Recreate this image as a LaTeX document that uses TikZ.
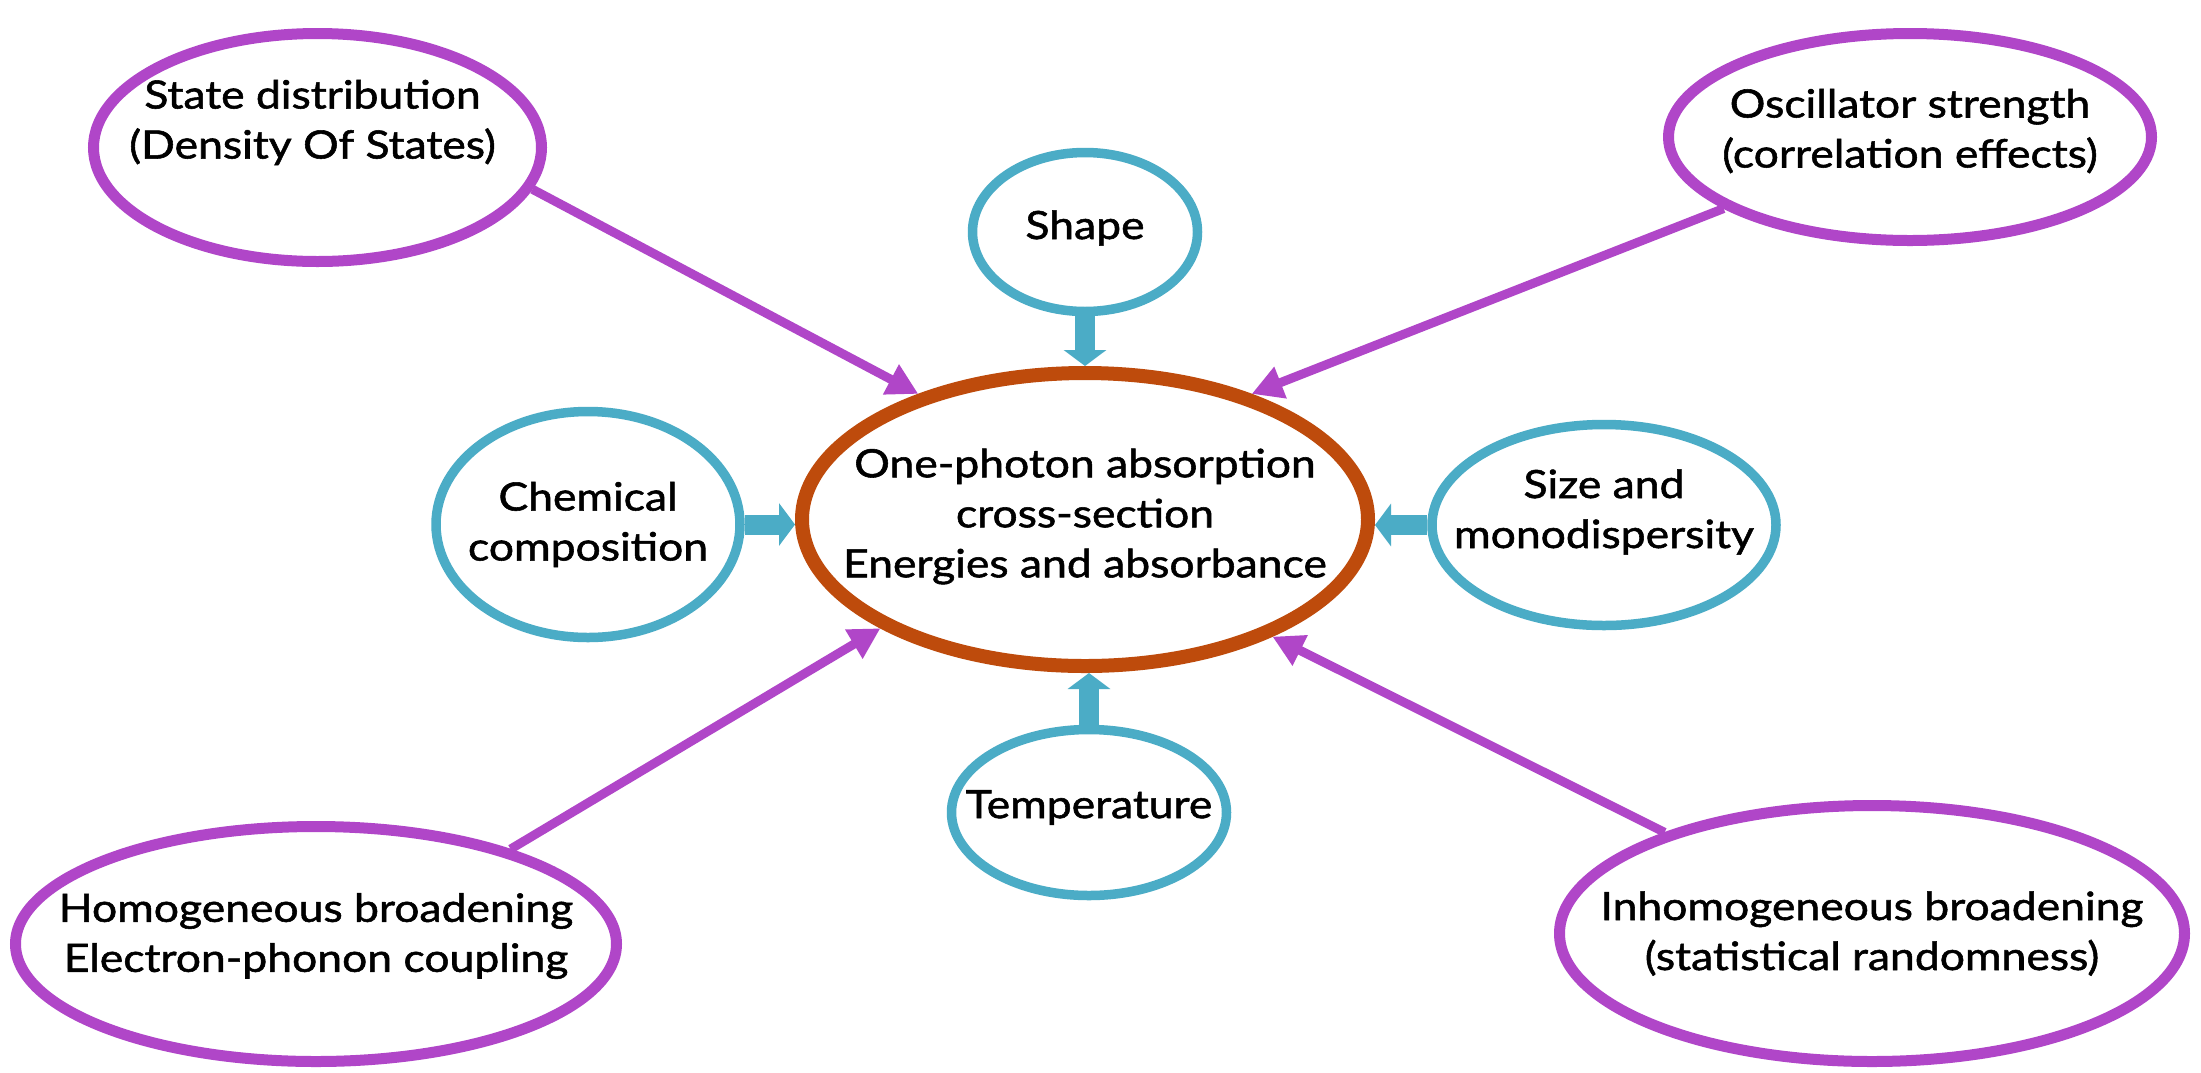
\documentclass[tikz,border=0pt]{standalone}
\usepackage{fontspec}
\setmainfont{Lato}[FakeBold=1.4, FakeStretch=1.14]
\usetikzlibrary{shapes.geometric,arrows.meta}
\definecolor{pur}{HTML}{B046C8}
\definecolor{aqua}{HTML}{4BACC6}
\definecolor{rust}{HTML}{BE4B0C}
\tikzset{
 ell/.style={ellipse, draw, fill=white, inner sep=0pt},
 outerell/.style={ell, draw=pur, line width=11pt},
 innerell/.style={ell, draw=aqua, line width=9.5pt},
 mainell/.style={ell, draw=rust, line width=14pt},
 lbl/.style={font=\fontsize{39}{50}\selectfont, align=center, inner sep=0pt},
 parrow/.style={draw=pur, line width=9pt, -{Triangle[width=32pt,length=31pt]}},
 barrow/.style={draw=aqua, line width=20pt, -{Triangle[width=42pt,length=16pt]}},
}
\begin{document}
\begin{tikzpicture}[x=1pt,y=-1pt]
\path[fill=white,use as bounding box] (0,0) rectangle (2201,1072);
% ellipses
\node[mainell, minimum width=566pt, minimum height=293pt] (c) at (1085,519.5) {};
\node[innerell, minimum width=225pt, minimum height=159pt] (shape) at (1085,232) {};
\node[innerell, minimum width=304pt, minimum height=226pt] (chem) at (588,524.5) {};
\node[innerell, minimum width=344pt, minimum height=201pt] (size) at (1604,525) {};
\node[innerell, minimum width=275pt, minimum height=166pt] (temp) at (1089,812.5) {};
\node[outerell, minimum width=448pt, minimum height=228pt] (sd) at (317.5,147.5) {};
\node[outerell, minimum width=483pt, minimum height=207pt] (osc) at (1910,137) {};
\node[outerell, minimum width=601pt, minimum height=235pt] (hom) at (316,944) {};
\node[outerell, minimum width=625pt, minimum height=256pt] (inh) at (1872,933.5) {};
% labels
\node[lbl] (tc) at ([yshift=3pt]c.center) {One-photon absorption\\cross-section\\Energies and absorbance};
\node[lbl] (tshape) at ([yshift=4pt]shape.center) {Shape};
\node[lbl] (tchem) at ([yshift=0pt]chem.center) {Chemical\\composition};
\node[lbl] (tsize) at ([yshift=13pt]size.center) {Size and\\monodispersity};
\node[lbl] (ttemp) at ([yshift=5pt]temp.center) {Temperature};
\node[lbl] (tsd) at ([xshift=-5pt,yshift=25pt]sd.center) {State distribution\\(Density Of States)};
\node[lbl] (tosc) at ([yshift=6pt]osc.center) {Oscillator strength\\(correlation effects)};
\node[lbl] (thom) at ([yshift=8pt]hom.center) {Homogeneous broadening\\Electron-phonon coupling};
\node[lbl] (tinh) at ([yshift=0pt]inh.center) {Inhomogeneous broadening\\(statistical randomness)};
% purple arrows
\draw[parrow] (sd.-11) -- (c.143.6);
\draw[parrow] (osc.201) -- (c.37.7);
\draw[parrow] (hom.26.6) -- (c.208.1);
\draw[parrow] (inh.154.7) -- (c.328.5);
% blue arrows
\draw[barrow] (shape.south) -- (shape.south |- c.north);
\draw[barrow] (chem.east) -- (c.west |- chem.east);
\draw[barrow] (size.west) -- (c.east |- size.west);
\draw[barrow] (temp.north) -- (temp.north |- c.south);
\end{tikzpicture}
\end{document}
